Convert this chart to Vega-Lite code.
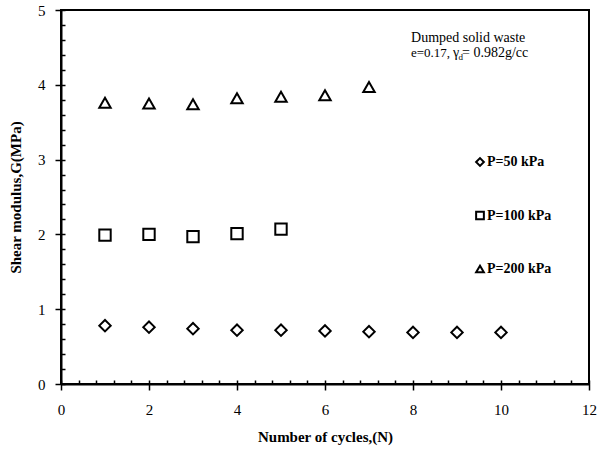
{
  "$schema": "https://vega.github.io/schema/vega-lite/v6.json",
  "width": 528,
  "height": 374,
  "autosize": {"type": "none"},
  "padding": {"left": 61, "top": 10, "right": 10, "bottom": 71},
  "background": "white",
  "config": {
    "font": "Liberation Serif",
    "view": {"stroke": "black", "strokeWidth": 2}
  },
  "resolve": {
    "scale": {"x": "independent", "y": "independent"},
    "axis": {"x": "independent", "y": "independent"}
  },
  "layer": [
    {
      "data": {
        "values": [
          {"cycles": 1, "G": 0.78, "load": "P=50 kPa"},
          {"cycles": 2, "G": 0.76, "load": "P=50 kPa"},
          {"cycles": 3, "G": 0.74, "load": "P=50 kPa"},
          {"cycles": 4, "G": 0.72, "load": "P=50 kPa"},
          {"cycles": 5, "G": 0.72, "load": "P=50 kPa"},
          {"cycles": 6, "G": 0.71, "load": "P=50 kPa"},
          {"cycles": 7, "G": 0.70, "load": "P=50 kPa"},
          {"cycles": 8, "G": 0.69, "load": "P=50 kPa"},
          {"cycles": 9, "G": 0.69, "load": "P=50 kPa"},
          {"cycles": 10, "G": 0.69, "load": "P=50 kPa"},
          {"cycles": 1, "G": 1.99, "load": "P=100 kPa"},
          {"cycles": 2, "G": 2.00, "load": "P=100 kPa"},
          {"cycles": 3, "G": 1.97, "load": "P=100 kPa"},
          {"cycles": 4, "G": 2.01, "load": "P=100 kPa"},
          {"cycles": 5, "G": 2.07, "load": "P=100 kPa"},
          {"cycles": 1, "G": 3.76, "load": "P=200 kPa"},
          {"cycles": 2, "G": 3.75, "load": "P=200 kPa"},
          {"cycles": 3, "G": 3.74, "load": "P=200 kPa"},
          {"cycles": 4, "G": 3.82, "load": "P=200 kPa"},
          {"cycles": 5, "G": 3.84, "load": "P=200 kPa"},
          {"cycles": 6, "G": 3.86, "load": "P=200 kPa"},
          {"cycles": 7, "G": 3.97, "load": "P=200 kPa"}
        ]
      },
      "mark": {"type": "point", "filled": false, "stroke": "black", "strokeWidth": 2, "size": 130, "opacity": 1},
      "encoding": {
        "x": {
          "field": "cycles",
          "type": "quantitative",
          "scale": {"domain": [0, 12], "nice": false, "zero": false},
          "axis": {
            "orient": "bottom",
            "zindex": 1,
            "title": "Number of cycles,(N)",
            "titleFont": "Liberation Serif",
            "titleFontSize": 15,
            "titleFontWeight": "bold",
            "titleColor": "black",
            "titlePadding": 12,
            "values": [0, 2, 4, 6, 8, 10, 12],
            "format": "d",
            "labelFont": "Liberation Serif",
            "labelFontSize": 15,
            "labelColor": "black",
            "labelPadding": 12,
            "labelFlush": false,
            "tickColor": "black",
            "tickWidth": 1.5,
            "tickSize": 6,
            "domainColor": "black",
            "domainWidth": 2,
            "grid": false
          }
        },
        "y": {
          "field": "G",
          "type": "quantitative",
          "scale": {"domain": [0, 5], "nice": false, "zero": false},
          "axis": {
            "orient": "left",
            "zindex": 1,
            "title": "Shear modulus,G(MPa)",
            "titleFont": "Liberation Serif",
            "titleFontSize": 15,
            "titleFontWeight": "bold",
            "titleColor": "black",
            "titlePadding": 14,
            "values": [0, 1, 2, 3, 4, 5],
            "format": "d",
            "labelFont": "Liberation Serif",
            "labelFontSize": 15,
            "labelColor": "black",
            "labelPadding": 10,
            "labelFlush": false,
            "tickColor": "black",
            "tickWidth": 1.5,
            "tickSize": 6,
            "domainColor": "black",
            "domainWidth": 2,
            "grid": false
          }
        },
        "shape": {
          "field": "load",
          "type": "nominal",
          "scale": {"domain": ["P=50 kPa", "P=100 kPa", "P=200 kPa"], "range": ["diamond", "square", "triangle-up"]},
          "legend": {
            "title": null,
            "orient": "none",
            "legendX": 412,
            "legendY": 145,
            "padding": 0,
            "rowPadding": 37.5,
            "symbolSize": 60,
            "symbolStrokeColor": "black",
            "symbolStrokeWidth": 2,
            "symbolFillColor": "transparent",
            "labelFont": "Liberation Serif",
            "labelFontSize": 14,
            "labelFontWeight": "bold",
            "labelColor": "black",
            "labelOffset": 0
          }
        }
      }
    },
    {
      "data": {
        "values": [
          {"cycles": 7.955, "G": 4.572, "note": "Dumped solid waste"},
          {"cycles": 8.909, "G": 4.372, "note": "γ"},
          {"cycles": 9.114, "G": 4.372, "note": "= 0.982g/cc"}
        ]
      },
      "mark": {"type": "text", "align": "left", "baseline": "alphabetic", "font": "Liberation Serif", "fontSize": 14, "color": "black"},
      "encoding": {
        "x": {
          "field": "cycles",
          "type": "quantitative",
          "scale": {"domain": [0, 12], "nice": false, "zero": false},
          "axis": {
            "orient": "top",
            "offset": -374,
            "zindex": 1,
            "title": null,
            "values": [0, 0.4, 0.8, 1.2, 1.6, 2, 2.4, 2.8, 3.2, 3.6, 4, 4.4, 4.8, 5.2, 5.6, 6, 6.4, 6.8, 7.2, 7.6, 8, 8.4, 8.8, 9.2, 9.6, 10, 10.4, 10.8, 11.2, 11.6, 12],
            "labels": false,
            "ticks": true,
            "domain": false,
            "grid": false,
            "tickColor": "black",
            "tickOpacity": 1,
            "tickWidth": 1.5,
            "tickSize": 4
          }
        },
        "y": {
          "field": "G",
          "type": "quantitative",
          "scale": {"domain": [0, 5], "nice": false, "zero": false},
          "axis": {
            "orient": "right",
            "offset": -528,
            "zindex": 1,
            "title": null,
            "values": [0, 0.2, 0.4, 0.6, 0.8, 1, 1.2, 1.4, 1.6, 1.8, 2, 2.2, 2.4, 2.6, 2.8, 3, 3.2, 3.4, 3.6, 3.8, 4, 4.2, 4.4, 4.6, 4.8, 5],
            "labels": false,
            "ticks": true,
            "domain": false,
            "grid": false,
            "tickColor": "black",
            "tickOpacity": 1,
            "tickWidth": 1.5,
            "tickSize": 4
          }
        },
        "text": {"field": "note"}
      }
    },
    {
      "data": {"values": [{"cycles": 7.955, "G": 4.372, "note": "e=0.17,"}]},
      "mark": {"type": "text", "align": "left", "baseline": "alphabetic", "font": "Liberation Serif", "fontSize": 13, "color": "black"},
      "encoding": {
        "x": {"field": "cycles", "type": "quantitative", "scale": {"domain": [0, 12], "nice": false, "zero": false}, "axis": null},
        "y": {"field": "G", "type": "quantitative", "scale": {"domain": [0, 5], "nice": false, "zero": false}, "axis": null},
        "text": {"field": "note"}
      }
    },
    {
      "data": {"values": [{"cycles": 9.034, "G": 4.338, "note": "d"}]},
      "mark": {"type": "text", "align": "left", "baseline": "alphabetic", "font": "Liberation Serif", "fontSize": 9, "color": "black"},
      "encoding": {
        "x": {"field": "cycles", "type": "quantitative", "scale": {"domain": [0, 12], "nice": false, "zero": false}, "axis": null},
        "y": {"field": "G", "type": "quantitative", "scale": {"domain": [0, 5], "nice": false, "zero": false}, "axis": null},
        "text": {"field": "note"}
      }
    }
  ]
}
